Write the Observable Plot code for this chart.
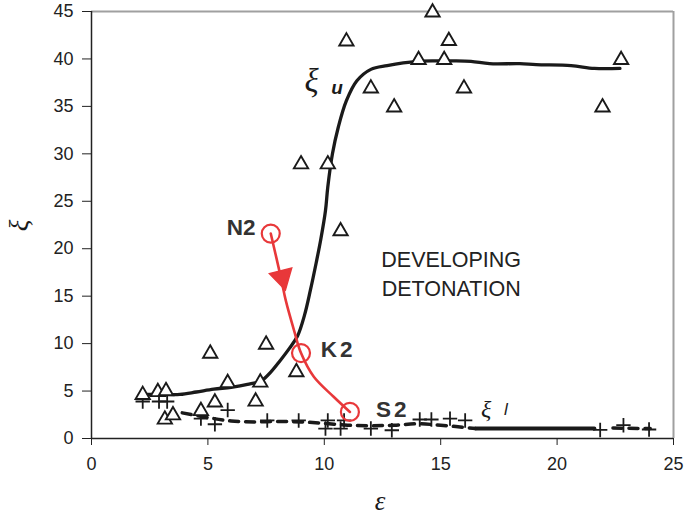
<!DOCTYPE html>
<html><head><meta charset="utf-8">
<script src="https://cdn.jsdelivr.net/npm/d3@7"></script>
<script src="https://cdn.jsdelivr.net/npm/@observablehq/plot@0.6"></script>
<style>body{margin:0;background:#fff;} #chart{width:685px;height:515px;}</style>
</head><body><div id="chart"></div>
<script>
// Data
const xTicks = [0, 5, 10, 15, 20, 25];
const yTicks = [0, 5, 10, 15, 20, 25, 30, 35, 40, 45];

// open triangles (upper limit measurements)
const triangles = [[2.2,4.6],[2.85,4.9],[3.2,5.0],[3.15,2.0],[3.5,2.45],[4.7,2.9],[5.1,8.95],[5.3,3.8],
  [5.85,5.85],[7.05,3.9],[7.25,5.9],[7.5,9.9],[8.8,7.0],[9.0,28.9],[10.15,28.9],[10.7,21.85],
  [10.95,41.85],[12.0,36.9],[13.0,34.9],[14.05,39.9],[14.65,44.9],[15.15,39.9],[15.35,41.9],
  [16.0,36.9],[21.95,34.9],[22.75,39.9]];

// plus markers (lower limit measurements)
const pluses = [[2.2,3.9],[2.9,3.9],[3.25,3.9],[4.7,2.1],[5.3,1.5],[5.85,3.0],[7.55,1.9],[8.9,1.9],
  [10.05,1.05],[10.15,1.9],[10.7,1.05],[10.85,1.9],[12.0,1.05],[12.9,0.87],[14.1,2.0],[14.6,2.0],
  [15.4,2.1],[16.05,1.9],[21.85,0.9],[22.85,1.4],[23.95,0.95]];

// xi_u curve
const upperCurve = [[2.4,4.65],[3.0,4.65],[3.8,4.65],[4.5,4.9],[5.25,5.2],[6.0,5.4],[6.7,5.7],[7.3,6.1],
  [7.7,7.0],[8.1,8.2],[8.5,9.5],[8.85,10.8],[9.15,13],[9.4,15.6],[9.65,18.5],[9.85,21],[10.05,24],
  [10.15,26.5],[10.35,30],[10.6,32.8],[10.95,35.6],[11.4,37.7],[12.0,38.9],[12.7,39.3],[14.0,39.75],
  [14.85,39.8],[15.5,39.8],[16.3,39.75],[17.1,39.5],[18.4,39.5],[19.1,39.4],[20.6,39.3],[21.6,39.0],[22.7,39.0]];

// xi_l curve: dashed parts and solid part
const lowerDashed1 = [[3.9,2.7],[5,2.2],[6,1.85],[7,1.75],[8,1.8],[9,1.75],[10,1.6],[11,1.4],[12,1.35],
  [13,1.4],[14,1.55],[15,1.4],[16.5,1.05]];
const lowerSolid = [[16.5,1.05],[21.6,1.05]];
const lowerDashed2 = [[22.4,1.1],[24,1.05]];

// red trajectory N2 -> K2 -> S2
const redPath = [[7.7,21.6],[8.15,16.8],[8.35,14.5],[8.7,11.4],[9.0,9.0],[9.55,6.5],[10.4,4.4],[11.1,2.8]];
const redNodes = [[7.7,21.6],[9.0,9.0],[11.1,2.8]];
const redArrow = [[8.19,17.0]];

// annotations
const endLabels = [{x: 7.05, y: 22.2, text: "N2"}];
const startLabels = [{x: 9.85, y: 9.3, text: "K2"}, {x: 12.22, y: 3.0, text: "S2"}];
const regionLabel = [{x: 15.45, y: 17.5, text: "DEVELOPING\nDETONATION"}];
const greekLabels = [{x: 9.45, y: 37.6, text: "ξ", size: 33}, {x: 16.95, y: 3.1, text: "ξ", size: 24}];
const subLabels = [{x: 10.55, y: 37.0, text: "u"}, {x: 17.8, y: 3.1, text: "l"}];
const xLabel = [{x: 12.4, y: -6.6, text: "ε"}];
const yLabel = [{x: -3.1, y: 22.45, text: "ξ"}];

const red = "#e8383a";
const ink = "#1a1a1a";
const serif = "'Liberation Serif', 'DejaVu Serif', serif";

const chart = Plot.plot({
  width: 685, height: 515,
  marginLeft: 91, marginRight: 12, marginTop: 11, marginBottom: 77,
  x: {domain: [0, 25], axis: null},
  y: {domain: [0, 45], axis: null},
  style: {fontFamily: "'Liberation Sans', Arial, sans-serif", background: "#fff", overflow: "visible"},
  marks: [
    Plot.ruleY([45], {stroke: "#a0a0a0", strokeWidth: 2}),
    Plot.ruleX([25], {stroke: "#a0a0a0", strokeWidth: 2}),
    Plot.axisY({ticks: yTicks, tickSize: 9, tickPadding: 9, fontSize: 18, color: "#222", label: null}),
    Plot.axisX({ticks: xTicks, tickSize: 7, tickPadding: 12, fontSize: 18, color: "#222", label: null}),
    Plot.ruleX([0], {stroke: "#222", strokeWidth: 1.5}),
    Plot.ruleY([0], {stroke: "#222", strokeWidth: 1.5}),
    Plot.line(lowerDashed1, {stroke: ink, strokeWidth: 3.5, strokeDasharray: "9,7", curve: "catmull-rom"}),
    Plot.line(lowerSolid, {stroke: ink, strokeWidth: 4}),
    Plot.line(lowerDashed2, {stroke: ink, strokeWidth: 3.5, strokeDasharray: "9,7"}),
    Plot.line(upperCurve, {stroke: ink, strokeWidth: 3.3, curve: "catmull-rom"}),
    Plot.dot(pluses, {symbol: "plus", r: 4.7, stroke: ink, strokeWidth: 1.8}),
    Plot.dot(triangles, {symbol: "triangle", r: 5.3, stroke: ink, strokeWidth: 1.9, fill: "white"}),
    Plot.line(redPath, {stroke: red, strokeWidth: 2.6, curve: "catmull-rom"}),
    Plot.dot(redNodes, {r: 9, stroke: red, strokeWidth: 2.2, fill: "none"}),
    Plot.dot(redArrow, {symbol: "triangle", r: 8.5, fill: red, stroke: red, rotate: 166}),
    Plot.text(endLabels, {x: "x", y: "y", text: "text", textAnchor: "end", fontSize: 22.5, fontWeight: "bold", fill: "#333"}),
    Plot.text(startLabels, {x: "x", y: "y", text: "text", textAnchor: "start", fontSize: 22.5, fontWeight: "bold", fill: "#333"}),
    Plot.text(regionLabel, {x: "x", y: "y", text: "text", fontSize: 21.5, fill: "#222", lineHeight: 1.33}),
    Plot.text(greekLabels, {x: "x", y: "y", text: "text", fontSize: d => d.size, fontStyle: "italic", fontFamily: serif, fill: ink}),
    Plot.text(subLabels.slice(0,1), {x: "x", y: "y", text: "text", fontSize: 19, fontWeight: "bold", fontStyle: "italic", fill: ink}),
    Plot.text(subLabels.slice(1), {x: "x", y: "y", text: "text", fontSize: 17, fontStyle: "italic", fill: ink}),
    Plot.text(xLabel, {x: "x", y: "y", text: "text", fontSize: 27, fontStyle: "italic", fontFamily: serif, fill: ink}),
    Plot.text(yLabel, {x: "x", y: "y", text: "text", fontSize: 27, fontStyle: "italic", rotate: -90, fontFamily: serif, fill: ink})
  ]
});
// slightly wider letter spacing for K2 and S2, as in the reference
d3.select(chart).selectAll("text").filter(function() { return this.textContent === "K2" || this.textContent === "S2"; })
  .attr("letter-spacing", "3px");
document.getElementById("chart").appendChild(chart);
</script>
</body></html>
